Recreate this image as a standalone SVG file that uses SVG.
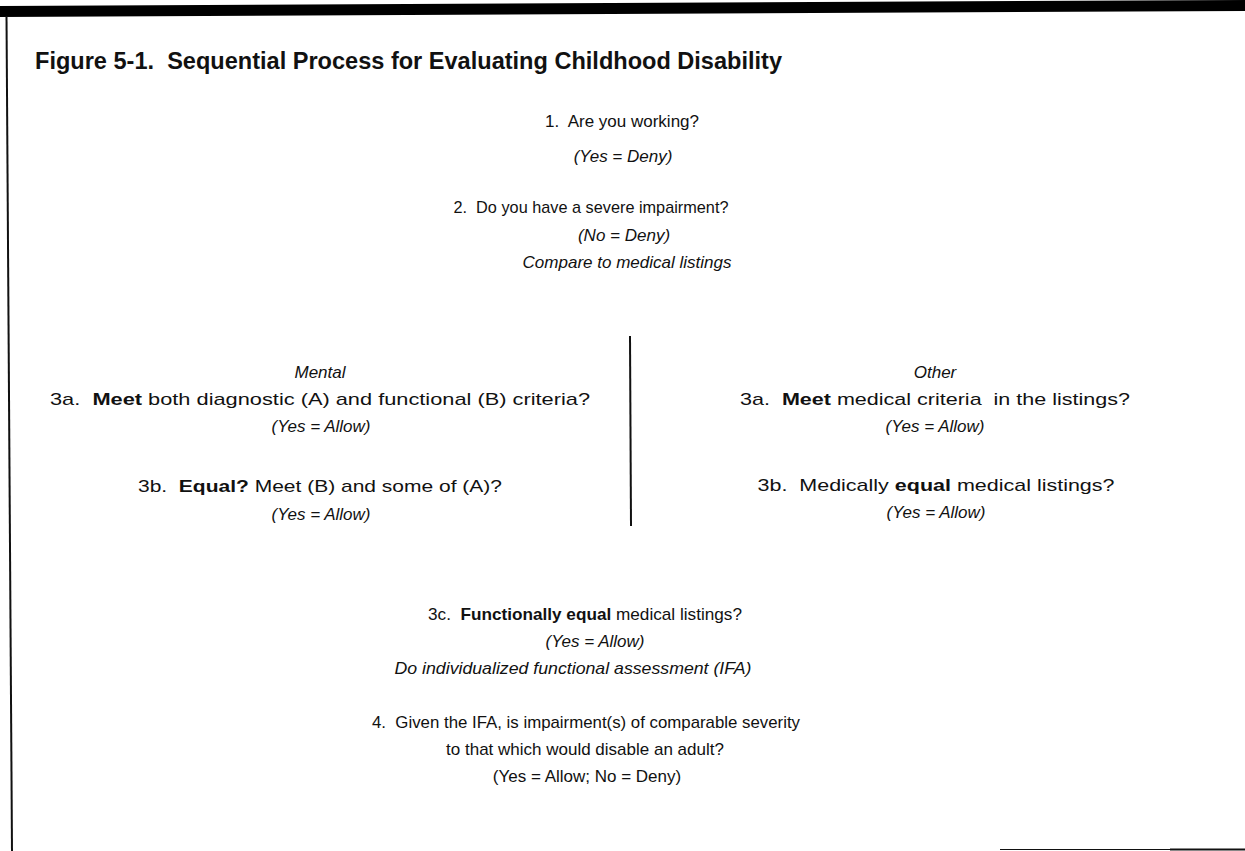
<svg xmlns="http://www.w3.org/2000/svg" width="1245" height="851" viewBox="0 0 1245 851">
<style>
  text { font-family: "Liberation Sans", Arial, sans-serif; font-size: 17px; fill: #111; }
  .title { font-size: 23px; font-weight: bold; }
  .c { text-anchor: middle; }
  .i { font-style: italic; }
  .b { font-weight: bold; }
  .rule { stroke: #111; fill: none; }
</style>
<rect width="1245" height="851" fill="#fff"/>
<g id="frame">
  <polygon points="0,6 1245,0 1245,11 0,17" fill="#000"/>
  <line class="rule" x1="6.5" y1="16" x2="12" y2="851" stroke-width="2"/>
  <line class="rule" x1="1000" y1="849.5" x2="1245" y2="849.5" stroke-width="1" stroke="#999"/>
  <line class="rule" x1="1170" y1="849.5" x2="1245" y2="849.5" stroke-width="2"/>
</g>
<text id="title" class="title" x="35" y="69" textLength="747" lengthAdjust="spacingAndGlyphs">Figure 5-1.&#160; Sequential Process for Evaluating Childhood Disability</text>
<g id="step1">
  <text class="c" x="622" y="127">1.&#160; Are you working?</text>
  <text class="c i" x="623" y="162">(Yes = Deny)</text>
</g>
<g id="step2">
  <text class="c" x="591" y="213" textLength="275" lengthAdjust="spacingAndGlyphs">2.&#160; Do you have a severe impairment?</text>
  <text class="c i" x="624" y="241">(No = Deny)</text>
  <text class="c i" x="627" y="268">Compare to medical listings</text>
</g>
<g id="connectors">
  <line class="rule" x1="630" y1="336" x2="631" y2="526" stroke-width="2"/>
</g>
<g id="mental">
  <text class="c i" x="320" y="378">Mental</text>
  <text class="c" x="320" y="405" textLength="540" lengthAdjust="spacingAndGlyphs">3a.&#160; <tspan class="b">Meet</tspan> both diagnostic (A) and functional (B) criteria?</text>
  <text class="c i" x="321" y="432">(Yes = Allow)</text>
  <text class="c" x="320" y="492" textLength="364" lengthAdjust="spacingAndGlyphs">3b.&#160; <tspan class="b">Equal?</tspan> Meet (B) and some of (A)?</text>
  <text class="c i" x="321" y="520">(Yes = Allow)</text>
</g>
<g id="other">
  <text class="c i" x="935" y="378">Other</text>
  <text class="c" x="935" y="405" textLength="390" lengthAdjust="spacingAndGlyphs">3a.&#160; <tspan class="b">Meet</tspan> medical criteria&#160; in the listings?</text>
  <text class="c i" x="935" y="432">(Yes = Allow)</text>
  <text class="c" x="936" y="491" textLength="357" lengthAdjust="spacingAndGlyphs">3b.&#160; Medically <tspan class="b">equal</tspan> medical listings?</text>
  <text class="c i" x="936" y="518">(Yes = Allow)</text>
</g>
<g id="step3c">
  <text class="c" x="585" y="620" textLength="314" lengthAdjust="spacingAndGlyphs">3c.&#160; <tspan class="b">Functionally equal</tspan> medical listings?</text>
  <text class="c i" x="595" y="647">(Yes = Allow)</text>
  <text class="c i" x="573" y="674" textLength="357" lengthAdjust="spacingAndGlyphs">Do individualized functional assessment (IFA)</text>
</g>
<g id="step4">
  <text class="c" x="586" y="728" textLength="428" lengthAdjust="spacingAndGlyphs">4.&#160; Given the IFA, is impairment(s) of comparable severity</text>
  <text class="c" x="585" y="755">to that which would disable an adult?</text>
  <text class="c" x="587" y="782">(Yes = Allow; No = Deny)</text>
</g>
</svg>
